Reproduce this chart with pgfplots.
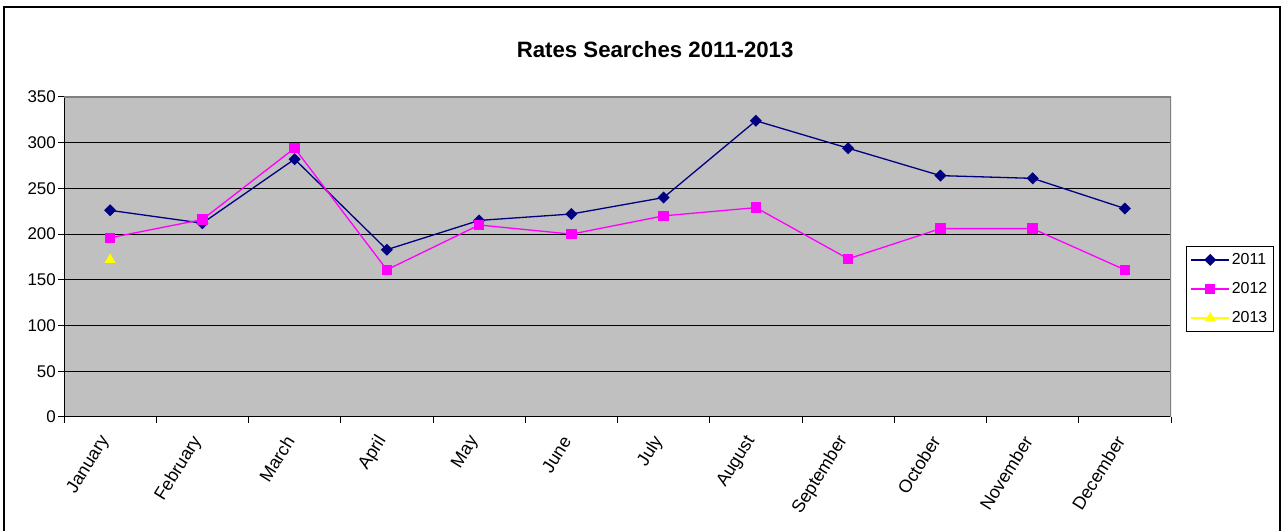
\documentclass[border=0pt]{standalone}
\usepackage{pgfplots}
\pgfplotsset{compat=1.18}
\usepackage{fontspec}
\setmainfont{Liberation Sans}

\definecolor{plotgray}{RGB}{192,192,192}
\definecolor{frame}{RGB}{128,128,128}
\definecolor{s2011}{RGB}{0,0,128}
\definecolor{s2012}{RGB}{255,0,255}
\definecolor{s2013}{RGB}{255,255,0}

\begin{document}
\begin{tikzpicture}[x=1bp,y=1bp]
\useasboundingbox (0,0) rectangle (1282,531);
% outer chart frame (bottom edge falls off the page)
\draw[line width=1.5bp] (4,-5) -- (4,524) -- (1280,524) -- (1280,-5);
\begin{axis}[
  at={(64bp,114bp)}, anchor=south west,
  scale only axis, width=1107bp, height=320bp,
  xmin=0.5, xmax=12.5, ymin=0, ymax=350,
  xtick={0.5,1.5,...,12.5},
  x tick label as interval,
  xticklabels={January,February,March,April,May,June,July,August,September,October,November,December},
  ytick={0,50,...,350},
  xtick pos=left, ytick pos=left,
  ymajorgrids, grid style={black, line width=1bp},
  tick align=outside, major tick length=6bp,
  tick style={black, line width=1bp},
  axis line style={draw=none},
  axis background/.style={fill=plotgray},
  /pgf/number format/assume math mode=true,
  y tick label style={font=\fontsize{17}{20}\selectfont, inner sep=1bp, xshift=-1bp},
  x tick label style={font=\fontsize{18}{21}\selectfont, xshift=-4bp, yshift=-14bp, rotate=58, anchor=east, inner sep=1bp},
  title={\textbf{Rates Searches 2011-2013}},
  title style={font=\fontsize{22.3}{26}\selectfont, at={(0.534,1)}, anchor=center, yshift=41bp},
  legend style={at={(1.0136,0.534)}, anchor=north west, draw=black, line width=1bp,
    fill=white, font=\fontsize{16}{19}\selectfont, inner xsep=4bp, inner ysep=5bp, row sep=12.5bp,
    cells={anchor=west}},
  legend image code/.code={\draw[mark repeat=2,mark phase=2,#1] plot coordinates {(0bp,0bp) (19bp,0bp) (38bp,0bp)};},
]
\addplot[s2011, line width=1.3bp, mark=square*, mark size=3.6bp, mark options={solid, rotate=45}] coordinates {
  (1,226) (2,212) (3,282) (4,183) (5,215) (6,222) (7,240) (8,324) (9,294) (10,264) (11,261) (12,228)
};
\addlegendentry{2011}
\addplot[s2012, line width=1.3bp, mark=square*, mark size=4.5bp, mark options={solid}] coordinates {
  (1,196) (2,216) (3,294) (4,161) (5,210) (6,200) (7,220) (8,229) (9,173) (10,206) (11,206) (12,161)
};
\addlegendentry{2012}
\addplot[s2013, line width=1.3bp, mark=triangle*, mark size=5bp, mark options={solid}] coordinates {
  (1,172)
};
\addlegendentry{2013}
\draw[black, line width=1bp] (rel axis cs:0,1) -- (rel axis cs:0,0) -- (rel axis cs:1,0);
\draw[frame, line width=1.5bp] (rel axis cs:0,1) -- (rel axis cs:1,1) -- (rel axis cs:1,0);
\end{axis}
\end{tikzpicture}
\end{document}
